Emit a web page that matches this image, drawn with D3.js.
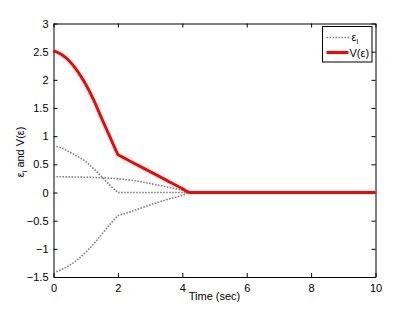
<!DOCTYPE html>
<html>
<head>
<meta charset="utf-8">
<script src="https://cdn.jsdelivr.net/npm/d3@7"></script>
<style>
  body { margin: 0; background: #fff; }
  text { font-family: "Liberation Sans", Arial, sans-serif; }
</style>
</head>
<body>
<div id="chart"></div>
<script>
// time samples (sec)
var time = [0, 0.25, 0.5, 0.75, 1, 1.25, 1.5, 1.75, 2, 2.5, 3, 3.5, 4, 4.25, 10];

// epsilon_i error signals
var eps1 = [0.83, 0.79, 0.72, 0.64, 0.55, 0.42, 0.28, 0.13, 0, 0, 0, 0, 0, 0, 0];
var eps2 = [0.28, 0.279, 0.277, 0.275, 0.27, 0.267, 0.26, 0.253, 0.245, 0.21, 0.16, 0.10, 0.04, 0, 0];
var eps3 = [-1.42, -1.37, -1.29, -1.19, -1.06, -0.91, -0.74, -0.57, -0.41, -0.32, -0.22, -0.13, -0.05, 0, 0];

// Lyapunov function V(eps)
var vEps = [2.52, 2.45, 2.33, 2.15, 1.92, 1.64, 1.31, 0.99, 0.67, 0.52, 0.37, 0.22, 0.07, 0, 0];

var xTicks = [0, 2, 4, 6, 8, 10];
var yTicks = [-1.5, -1, -0.5, 0, 0.5, 1, 1.5, 2, 2.5, 3];

// index where the switching happens (t = 2), curves have a kink there
var kink = 8;

function makeChart() {
    var svgWidth = 415, svgHeight = 312;
    var margin = { top: 23.5, right: 39.5, bottom: 35, left: 53.5 };
    var width = svgWidth - margin.left - margin.right;
    var height = svgHeight - margin.top - margin.bottom;

    var svg = d3.select("#chart").append("svg")
        .attr("width", svgWidth)
        .attr("height", svgHeight);

    var g = svg.append("g")
        .attr("transform", `translate(${margin.left}, ${margin.top})`);

    var x = d3.scaleLinear().domain([0, 10]).range([0, width]);
    var y = d3.scaleLinear().domain([-1.5, 3]).range([height, 0]);

    var fmt = d3.format("");

    // axes, ticks pointing inwards on all four sides
    var bottom = g.append("g")
        .attr("transform", `translate(0, ${height})`)
        .call(d3.axisBottom(x).tickValues(xTicks).tickSizeInner(-4).tickSizeOuter(0).tickPadding(7).tickFormat(fmt));
    var top = g.append("g")
        .call(d3.axisTop(x).tickValues(xTicks).tickSizeInner(-4).tickSizeOuter(0).tickFormat(""));
    var left = g.append("g")
        .call(d3.axisLeft(y).tickValues(yTicks).tickSizeInner(-4).tickSizeOuter(0).tickPadding(5).tickFormat(fmt));
    var right = g.append("g")
        .attr("transform", `translate(${width}, 0)`)
        .call(d3.axisRight(y).tickValues(yTicks).tickSizeInner(-4).tickSizeOuter(0).tickFormat(""));

    [bottom, top, left, right].forEach(function(a) {
        a.selectAll("path, line").attr("stroke", "#000");
        a.selectAll("text").attr("fill", "#000").style("font-size", "11px")
            .style("font-family", "'Liberation Sans', Arial, sans-serif");
    });

    var line = d3.line()
        .x(function(d) { return x(d[0]); })
        .y(function(d) { return y(d[1]); })
        .curve(d3.curveMonotoneX);

    // path made of two smooth pieces joined at the kink
    function pathOf(s) {
        var pts = s.map(function(v, i) { return [time[i], v]; });
        return line(pts.slice(0, kink + 1)) + line(pts.slice(kink)).replace(/^M/, "L");
    }

    [eps1, eps2, eps3].forEach(function(s) {
        g.append("path")
            .attr("d", pathOf(s))
            .attr("fill", "none")
            .attr("stroke", "#808080")
            .attr("stroke-width", 1.6)
            .attr("stroke-dasharray", "1.6,1.4");
    });

    g.append("path")
        .attr("d", pathOf(vEps))
        .attr("fill", "none")
        .attr("stroke", "#ff0000")
        .attr("stroke-width", 3)
        .attr("stroke-linejoin", "miter");

    // axis labels
    svg.append("text")
        .attr("x", margin.left + width / 2)
        .attr("y", 300)
        .attr("text-anchor", "middle")
        .style("font-size", "11px")
        .text("Time (sec)");

    var yl = svg.append("text")
        .attr("transform", "translate(24, 152) rotate(-90)")
        .attr("text-anchor", "middle")
        .style("font-size", "11px");
    yl.append("tspan").text("ε");
    yl.append("tspan").attr("dy", 3).style("font-size", "8px").text("i");
    yl.append("tspan").attr("dy", -3).text(" and V(ε)");

    // legend
    var lg = svg.append("g").attr("transform", "translate(322.5, 26.5)");
    lg.append("rect")
        .attr("width", 49.5).attr("height", 35.5)
        .attr("fill", "#fff").attr("stroke", "#000").attr("stroke-width", 1);
    lg.append("line")
        .attr("x1", 4).attr("x2", 27).attr("y1", 11).attr("y2", 11)
        .attr("stroke", "#808080").attr("stroke-width", 1.6).attr("stroke-dasharray", "1.6,1.4");
    var t1 = lg.append("text").attr("x", 29).attr("y", 14).style("font-size", "11px");
    t1.append("tspan").text("ε");
    t1.append("tspan").attr("dy", 3).style("font-size", "8px").text("i");
    lg.append("line")
        .attr("x1", 4).attr("x2", 26).attr("y1", 26).attr("y2", 26)
        .attr("stroke", "#ff0000").attr("stroke-width", 3);
    lg.append("text").attr("x", 27).attr("y", 30).style("font-size", "11px").text("V(ε)");
}

makeChart();
</script>
</body>
</html>
